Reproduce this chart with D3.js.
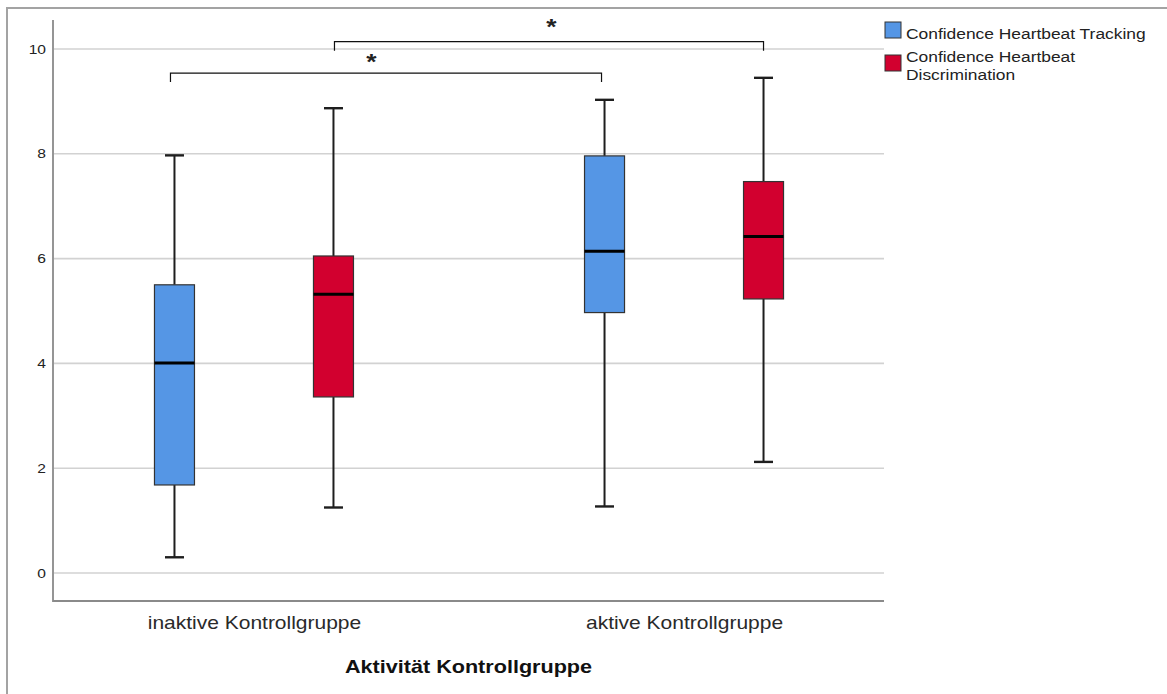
<!DOCTYPE html>
<html>
<head>
<meta charset="utf-8">
<script src="https://cdn.jsdelivr.net/npm/d3@7"></script>
<style>
  html, body { margin: 0; padding: 0; background: #fff; }
  svg { display: block; font-family: "Liberation Sans", Arial, sans-serif; }
</style>
</head>
<body>
<svg id="chart" width="1167" height="694"></svg>
<script>
// Groups on the x axis and the two confidence measures shown per group
const categories = ["inaktive Kontrollgruppe", "aktive Kontrollgruppe"];
const seriesNames = ["Confidence Heartbeat Tracking", "Confidence Heartbeat Discrimination"];
const legendLines = [["Confidence Heartbeat Tracking"], ["Confidence Heartbeat", "Discrimination"]];
const seriesColors = ["#5596e5", "#d2002f"];

// Five-number summaries, one entry per group
const trackingStats = [
  { min: 0.30, q1: 1.68, median: 4.01, q3: 5.50, max: 7.97 },
  { min: 1.27, q1: 4.97, median: 6.14, q3: 7.96, max: 9.03 }
];
const discriminationStats = [
  { min: 1.25, q1: 3.36, median: 5.32, q3: 6.05, max: 8.87 },
  { min: 2.12, q1: 5.23, median: 6.42, q3: 7.47, max: 9.45 }
];

const yTicks = [0, 2, 4, 6, 8, 10];

// Significance brackets: [group, series] endpoints, height in data units
const comparisons = [
  { from: [0, 0], to: [1, 0], level: 9.54, label: "*" },
  { from: [0, 1], to: [1, 1], level: 10.14, label: "*" }
];

const xTitle = "Aktivität Kontrollgruppe";

// ---- layout ----
const svg = d3.select("#chart");
const plotLeft = 53, plotRight = 884, plotTop = 20, plotBottom = 601;
const stretch = 1.2;   // horizontal text stretch of the figure
const boxWidth = 40, capWidth = 19;

const y = d3.scaleLinear().domain([0, 10]).range([573, 49]);
const x = d3.scalePoint().domain(categories).range([plotLeft + 1, plotRight]).padding(0.465);
const inner = d3.scalePoint().domain(d3.range(seriesNames.length)).range([-79.5, 79.5]);

const statsBySeries = [trackingStats, discriminationStats];
const cx = (g, s) => x(categories[g]) + inner(s);

svg.append("rect").attr("width", 1167).attr("height", 694).attr("fill", "#fff");

// outer frame
svg.append("path")
  .attr("d", "M7,694 V8 H1167")
  .attr("fill", "none").attr("stroke", "#a3a3a3").attr("stroke-width", 2);

// gridlines
svg.append("g").selectAll("line").data(yTicks).join("line")
  .attr("x1", plotLeft + 1).attr("x2", plotRight)
  .attr("y1", d => y(d)).attr("y2", d => y(d))
  .attr("stroke", "#d2d2d2").attr("stroke-width", 1.6);

// y axis labels
const yAxis = svg.append("g").attr("transform", `translate(${plotLeft},0)`)
  .call(d3.axisLeft(y).tickValues(yTicks).tickSize(0).tickFormat(d3.format("d")));
yAxis.select(".domain").remove();
yAxis.selectAll("text")
  .attr("x", -7 / stretch)
  .attr("transform", `scale(${stretch},1)`)
  .attr("font-size", 13).attr("font-family", "Liberation Sans, Arial, sans-serif")
  .attr("fill", "#222");

// x axis labels
const xAxis = svg.append("g").attr("transform", `translate(0,${plotBottom})`)
  .call(d3.axisBottom(x).tickSize(0));
xAxis.select(".domain").remove();
xAxis.selectAll(".tick text")
  .attr("y", 28).attr("dy", 0)
  .attr("transform", `scale(${stretch},1)`)
  .attr("font-size", 17.5).attr("font-family", "Liberation Sans, Arial, sans-serif")
  .attr("fill", "#2a2a2a");

// axis lines
svg.append("path")
  .attr("d", `M${plotLeft},${plotTop} V${plotBottom} H${plotRight}`)
  .attr("fill", "none").attr("stroke", "#8a8a8a").attr("stroke-width", 1.8);

// boxes
const boxData = [];
statsBySeries.forEach((stats, s) => stats.forEach((d, g) => boxData.push({ ...d, g, s })));

const boxes = svg.append("g").selectAll("g").data(boxData).join("g")
  .attr("transform", d => `translate(${cx(d.g, d.s)},0)`);

boxes.append("line").attr("class", "whisker-up")
  .attr("y1", d => y(d.max)).attr("y2", d => y(d.q3))
  .attr("stroke", "#1e1e1e").attr("stroke-width", 2);
boxes.append("line").attr("class", "whisker-down")
  .attr("y1", d => y(d.q1)).attr("y2", d => y(d.min))
  .attr("stroke", "#1e1e1e").attr("stroke-width", 2);
boxes.append("line")
  .attr("x1", -capWidth / 2).attr("x2", capWidth / 2)
  .attr("y1", d => y(d.max)).attr("y2", d => y(d.max))
  .attr("stroke", "#1e1e1e").attr("stroke-width", 2.4);
boxes.append("line")
  .attr("x1", -capWidth / 2).attr("x2", capWidth / 2)
  .attr("y1", d => y(d.min)).attr("y2", d => y(d.min))
  .attr("stroke", "#1e1e1e").attr("stroke-width", 2.4);
boxes.append("rect")
  .attr("x", -boxWidth / 2).attr("width", boxWidth)
  .attr("y", d => y(d.q3)).attr("height", d => y(d.q1) - y(d.q3))
  .attr("fill", d => seriesColors[d.s])
  .attr("stroke", "#333").attr("stroke-width", 1.2);
boxes.append("line")
  .attr("x1", -boxWidth / 2).attr("x2", boxWidth / 2)
  .attr("y1", d => y(d.median)).attr("y2", d => y(d.median))
  .attr("stroke", "#000").attr("stroke-width", 3);

// significance brackets
const starNudge = [[-18, -3], [3, -7]];
const bracketEnds = [[-4, -3], [1, 0]];
const brackets = svg.append("g").selectAll("g").data(comparisons).join("g");
brackets.append("path")
  .attr("d", (d, i) => {
    const x1 = cx(d.from[0], d.from[1]) + bracketEnds[i][0];
    const x2 = cx(d.to[0], d.to[1]) + bracketEnds[i][1];
    const yy = y(d.level);
    return `M${x1},${yy + 9} V${yy} H${x2} V${yy + 9}`;
  })
  .attr("fill", "none").attr("stroke", "#111").attr("stroke-width", 1.2);
brackets.append("g")
  .attr("transform", (d, i) => {
    const mid = (cx(d.from[0], d.from[1]) + cx(d.to[0], d.to[1])) / 2 + starNudge[i][0];
    return `translate(${mid},${y(d.level) - 1 + starNudge[i][1]})`;
  })
  .append("text")
  .attr("text-anchor", "middle")
  .attr("transform", `scale(${stretch},1)`)
  .attr("font-size", 22).attr("font-weight", "bold").attr("fill", "#222")
  .text(d => d.label);

// x axis title
svg.append("g").attr("transform", `translate(${(plotLeft + plotRight) / 2},673)`)
  .append("text")
  .attr("text-anchor", "middle")
  .attr("transform", `scale(${stretch},1)`)
  .attr("font-size", 18).attr("font-weight", "bold").attr("fill", "#111")
  .text(xTitle);

// legend
const legendTops = [22, 55];
const legend = svg.append("g").selectAll("g").data(seriesNames).join("g")
  .attr("transform", (d, i) => `translate(885,${legendTops[i]})`);
legend.append("rect")
  .attr("width", 16).attr("height", 16)
  .attr("fill", (d, i) => seriesColors[i])
  .attr("stroke", "#333").attr("stroke-width", 1);
legend.each(function (d, i) {
  const lines = legendLines[i];
  const g = d3.select(this);
  lines.forEach((t, k) => {
    const baseline = lines.length === 1 ? 17 : 7 + k * 18;
    g.append("g").attr("transform", `translate(21,${baseline})`)
      .append("text")
      .attr("transform", `scale(${stretch},1)`)
      .attr("font-size", 14.5).attr("fill", "#222")
      .text(t);
  });
});
</script>
</body>
</html>
